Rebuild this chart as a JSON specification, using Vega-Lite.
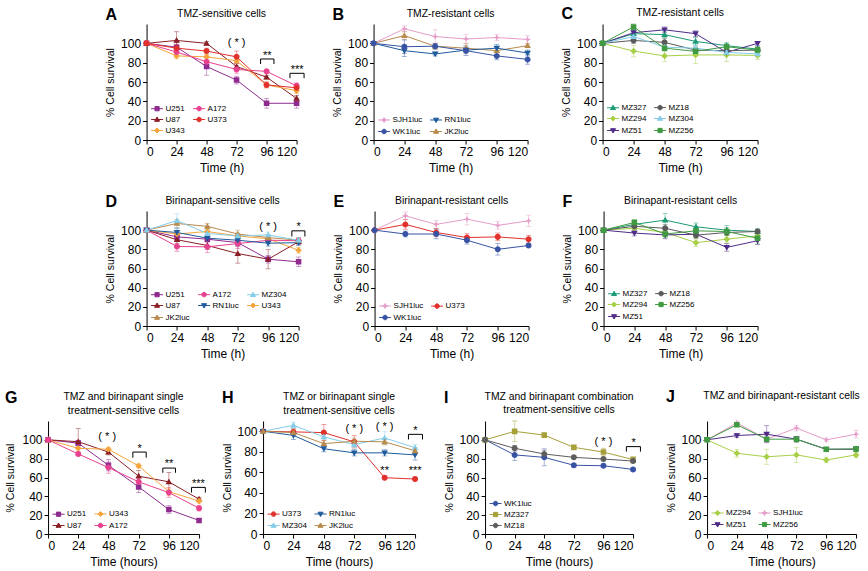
{
"$schema":"https://vega.github.io/schema/vega-lite/v6.json",
"background":"white",
"padding":{"left":5,"right":0,"top":6,"bottom":2},
"datasets":{
"A":[
{"c":"U251","t":0,"v":100,"e":0},{"c":"U251","t":24,"v":96,"e":5},{"c":"U251","t":48,"v":76,"e":9},{"c":"U251","t":72,"v":62,"e":4},{"c":"U251","t":96,"v":38,"e":5},{"c":"U251","t":120,"v":38,"e":5},
{"c":"U87","t":0,"v":100,"e":0},{"c":"U87","t":24,"v":103,"e":9},{"c":"U87","t":48,"v":100,"e":2},{"c":"U87","t":72,"v":76,"e":3},{"c":"U87","t":96,"v":65,"e":2},{"c":"U87","t":120,"v":43,"e":3},
{"c":"U343","t":0,"v":100,"e":0},{"c":"U343","t":24,"v":87,"e":3},{"c":"U343","t":48,"v":86,"e":3},{"c":"U343","t":72,"v":82,"e":3},{"c":"U343","t":96,"v":57,"e":3},{"c":"U343","t":120,"v":51,"e":3},
{"c":"A172","t":0,"v":100,"e":0},{"c":"A172","t":24,"v":91,"e":3},{"c":"A172","t":48,"v":81,"e":5},{"c":"A172","t":72,"v":73,"e":4},{"c":"A172","t":96,"v":71,"e":2},{"c":"A172","t":120,"v":56,"e":3},
{"c":"U373","t":0,"v":100,"e":0},{"c":"U373","t":24,"v":95,"e":4},{"c":"U373","t":48,"v":92,"e":3},{"c":"U373","t":72,"v":86,"e":6},{"c":"U373","t":96,"v":57,"e":3},{"c":"U373","t":120,"v":54,"e":3}],
"Aa":[{"t":72,"v":97,"s":"( * )"},{"t":96.5,"v":84,"s":"**"},{"t":120.5,"v":69.5,"s":"***"}],
"Ab":[{"g":1,"o":1,"t":91.2,"v":78.6},{"g":1,"o":2,"t":91.2,"v":83.8},{"g":1,"o":3,"t":101.9,"v":83.8},{"g":1,"o":4,"t":101.9,"v":78.6},{"g":2,"o":1,"t":114.7,"v":64},{"g":2,"o":2,"t":114.7,"v":69},{"g":2,"o":3,"t":126,"v":69},{"g":2,"o":4,"t":126,"v":64}],
"B":[
{"c":"SJH1luc","t":0,"v":100,"e":0},{"c":"SJH1luc","t":24,"v":115,"e":3},{"c":"SJH1luc","t":48,"v":107,"e":7},{"c":"SJH1luc","t":72,"v":104.5,"e":5},{"c":"SJH1luc","t":96,"v":106,"e":3},{"c":"SJH1luc","t":120,"v":104,"e":4},
{"c":"JK2luc","t":0,"v":100,"e":0},{"c":"JK2luc","t":24,"v":108,"e":4},{"c":"JK2luc","t":48,"v":97,"e":3},{"c":"JK2luc","t":72,"v":95,"e":5},{"c":"JK2luc","t":96,"v":92.4,"e":4},{"c":"JK2luc","t":120,"v":97.6,"e":2},
{"c":"RN1luc","t":0,"v":100,"e":0},{"c":"RN1luc","t":24,"v":92.4,"e":6},{"c":"RN1luc","t":48,"v":89,"e":2},{"c":"RN1luc","t":72,"v":93,"e":3},{"c":"RN1luc","t":96,"v":95,"e":4},{"c":"RN1luc","t":120,"v":90,"e":3},
{"c":"WK1luc","t":0,"v":100,"e":0},{"c":"WK1luc","t":24,"v":96.5,"e":7},{"c":"WK1luc","t":48,"v":97,"e":3},{"c":"WK1luc","t":72,"v":92.4,"e":5},{"c":"WK1luc","t":96,"v":87,"e":4},{"c":"WK1luc","t":120,"v":83.4,"e":5}],
"C":[
{"c":"MZ327","t":0,"v":100,"e":0},{"c":"MZ327","t":24,"v":110,"e":3},{"c":"MZ327","t":48,"v":109,"e":3},{"c":"MZ327","t":72,"v":102,"e":4},{"c":"MZ327","t":96,"v":97.6,"e":3},{"c":"MZ327","t":120,"v":94,"e":3},
{"c":"MZ294","t":0,"v":100,"e":0},{"c":"MZ294","t":24,"v":92,"e":6},{"c":"MZ294","t":48,"v":87,"e":6},{"c":"MZ294","t":72,"v":88,"e":9},{"c":"MZ294","t":96,"v":88,"e":7},{"c":"MZ294","t":120,"v":87.5,"e":4},
{"c":"MZ51","t":0,"v":100,"e":0},{"c":"MZ51","t":24,"v":111,"e":3},{"c":"MZ51","t":48,"v":114,"e":3},{"c":"MZ51","t":72,"v":110,"e":3},{"c":"MZ51","t":96,"v":90.7,"e":2},{"c":"MZ51","t":120,"v":100,"e":2},
{"c":"MZ18","t":0,"v":100,"e":0},{"c":"MZ18","t":24,"v":103,"e":3},{"c":"MZ18","t":48,"v":101,"e":4},{"c":"MZ18","t":72,"v":93,"e":3},{"c":"MZ18","t":96,"v":92.4,"e":2},{"c":"MZ18","t":120,"v":93,"e":3},
{"c":"MZ304","t":0,"v":100,"e":0},{"c":"MZ304","t":24,"v":107,"e":4},{"c":"MZ304","t":48,"v":96,"e":3},{"c":"MZ304","t":72,"v":95,"e":4},{"c":"MZ304","t":96,"v":90.7,"e":3},{"c":"MZ304","t":120,"v":89,"e":3},
{"c":"MZ256","t":0,"v":100,"e":0},{"c":"MZ256","t":24,"v":117,"e":3},{"c":"MZ256","t":48,"v":95,"e":3},{"c":"MZ256","t":72,"v":91.7,"e":3},{"c":"MZ256","t":96,"v":96.5,"e":3},{"c":"MZ256","t":120,"v":93,"e":3}],
"D":[
{"c":"U251","t":0,"v":100,"e":0},{"c":"U251","t":24,"v":93,"e":4},{"c":"U251","t":48,"v":90.6,"e":3},{"c":"U251","t":72,"v":87,"e":4},{"c":"U251","t":96,"v":69.7,"e":4},{"c":"U251","t":120,"v":67,"e":5},
{"c":"U87","t":0,"v":100,"e":0},{"c":"U87","t":24,"v":90,"e":4},{"c":"U87","t":48,"v":84,"e":4},{"c":"U87","t":72,"v":75.6,"e":10},{"c":"U87","t":96,"v":69.7,"e":10},{"c":"U87","t":120,"v":88,"e":3},
{"c":"U343","t":0,"v":100,"e":0},{"c":"U343","t":24,"v":96,"e":3},{"c":"U343","t":48,"v":98.6,"e":3},{"c":"U343","t":72,"v":94,"e":3},{"c":"U343","t":96,"v":91,"e":3},{"c":"U343","t":120,"v":79,"e":3},
{"c":"A172","t":0,"v":100,"e":0},{"c":"A172","t":24,"v":83,"e":5},{"c":"A172","t":48,"v":82.6,"e":6},{"c":"A172","t":72,"v":86,"e":5},{"c":"A172","t":96,"v":89.5,"e":3},{"c":"A172","t":120,"v":89,"e":3},
{"c":"RN1luc","t":0,"v":100,"e":0},{"c":"RN1luc","t":24,"v":97.6,"e":4},{"c":"RN1luc","t":48,"v":91.6,"e":3},{"c":"RN1luc","t":72,"v":89.5,"e":3},{"c":"RN1luc","t":96,"v":86.4,"e":3},{"c":"RN1luc","t":120,"v":87,"e":3},
{"c":"JK2luc","t":0,"v":100,"e":0},{"c":"JK2luc","t":24,"v":107,"e":4},{"c":"JK2luc","t":48,"v":104,"e":3},{"c":"JK2luc","t":72,"v":96,"e":4},{"c":"JK2luc","t":96,"v":92.3,"e":3},{"c":"JK2luc","t":120,"v":89.5,"e":3},
{"c":"MZ304","t":0,"v":100,"e":0},{"c":"MZ304","t":24,"v":110,"e":7},{"c":"MZ304","t":48,"v":96.5,"e":5},{"c":"MZ304","t":72,"v":94,"e":3},{"c":"MZ304","t":96,"v":95,"e":3},{"c":"MZ304","t":120,"v":89.5,"e":3}],
"Da":[{"t":96,"v":100,"s":"( * )"},{"t":120,"v":100,"s":"*"}],
"Db":[{"g":1,"o":1,"t":114.7,"v":93.4},{"g":1,"o":2,"t":114.7,"v":99.3},{"g":1,"o":3,"t":125,"v":99.3},{"g":1,"o":4,"t":125,"v":93.4}],
"E":[
{"c":"SJH1luc","t":0,"v":100,"e":0},{"c":"SJH1luc","t":24,"v":115,"e":4},{"c":"SJH1luc","t":48,"v":106,"e":4},{"c":"SJH1luc","t":72,"v":111.5,"e":6},{"c":"SJH1luc","t":96,"v":105,"e":4},{"c":"SJH1luc","t":120,"v":109.7,"e":6},
{"c":"U373","t":0,"v":100,"e":0},{"c":"U373","t":24,"v":106,"e":5},{"c":"U373","t":48,"v":97.6,"e":4},{"c":"U373","t":72,"v":92.3,"e":4},{"c":"U373","t":96,"v":93,"e":4},{"c":"U373","t":120,"v":90.6,"e":4},
{"c":"WK1luc","t":0,"v":100,"e":0},{"c":"WK1luc","t":24,"v":96,"e":3},{"c":"WK1luc","t":48,"v":96,"e":5},{"c":"WK1luc","t":72,"v":89.5,"e":4},{"c":"WK1luc","t":96,"v":80,"e":6},{"c":"WK1luc","t":120,"v":84,"e":2}],
"F":[
{"c":"MZ327","t":0,"v":100,"e":0},{"c":"MZ327","t":24,"v":106,"e":4},{"c":"MZ327","t":48,"v":110.5,"e":7},{"c":"MZ327","t":72,"v":103.5,"e":4},{"c":"MZ327","t":96,"v":100,"e":5},{"c":"MZ327","t":120,"v":98.6,"e":3},
{"c":"MZ294","t":0,"v":100,"e":0},{"c":"MZ294","t":24,"v":102,"e":3},{"c":"MZ294","t":48,"v":97.6,"e":4},{"c":"MZ294","t":72,"v":87,"e":4},{"c":"MZ294","t":96,"v":90.6,"e":4},{"c":"MZ294","t":120,"v":94,"e":4},
{"c":"MZ51","t":0,"v":100,"e":0},{"c":"MZ51","t":24,"v":97,"e":3},{"c":"MZ51","t":48,"v":95,"e":4},{"c":"MZ51","t":72,"v":95.8,"e":4},{"c":"MZ51","t":96,"v":82,"e":4},{"c":"MZ51","t":120,"v":89,"e":4},
{"c":"MZ18","t":0,"v":100,"e":0},{"c":"MZ18","t":24,"v":104,"e":3},{"c":"MZ18","t":48,"v":102,"e":4},{"c":"MZ18","t":72,"v":94.8,"e":3},{"c":"MZ18","t":96,"v":97.6,"e":3},{"c":"MZ18","t":120,"v":98.6,"e":2},
{"c":"MZ256","t":0,"v":100,"e":0},{"c":"MZ256","t":24,"v":108,"e":3},{"c":"MZ256","t":48,"v":96,"e":4},{"c":"MZ256","t":72,"v":99.3,"e":4},{"c":"MZ256","t":96,"v":98.6,"e":4},{"c":"MZ256","t":120,"v":91.6,"e":6}],
"G":[
{"c":"U251","t":0,"v":100,"e":0},{"c":"U251","t":24,"v":96.5,"e":3},{"c":"U251","t":48,"v":73,"e":6},{"c":"U251","t":72,"v":50,"e":6},{"c":"U251","t":96,"v":26,"e":4},{"c":"U251","t":120,"v":14.4,"e":2},
{"c":"U87","t":0,"v":100,"e":0},{"c":"U87","t":24,"v":98,"e":14},{"c":"U87","t":48,"v":87,"e":3},{"c":"U87","t":72,"v":61.4,"e":6},{"c":"U87","t":96,"v":55.4,"e":10},{"c":"U87","t":120,"v":37,"e":2},
{"c":"U343","t":0,"v":100,"e":0},{"c":"U343","t":24,"v":91,"e":3},{"c":"U343","t":48,"v":90,"e":2},{"c":"U343","t":72,"v":72.3,"e":2},{"c":"U343","t":96,"v":45,"e":4},{"c":"U343","t":120,"v":35,"e":3},
{"c":"A172","t":0,"v":100,"e":0},{"c":"A172","t":24,"v":85,"e":2},{"c":"A172","t":48,"v":70.5,"e":6},{"c":"A172","t":72,"v":55.4,"e":4},{"c":"A172","t":96,"v":44,"e":5},{"c":"A172","t":120,"v":27.4,"e":3}],
"Ga":[{"t":47,"v":99.7,"s":"( * )"},{"t":72.7,"v":87.5,"s":"*"},{"t":96.2,"v":71,"s":"**"},{"t":119.5,"v":50,"s":"***"}],
"Gb":[{"g":1,"o":1,"t":67.4,"v":81},{"g":1,"o":2,"t":67.4,"v":87},{"g":1,"o":3,"t":78,"v":87},{"g":1,"o":4,"t":78,"v":81},{"g":2,"o":1,"t":91.2,"v":65},{"g":2,"o":2,"t":91.2,"v":70},{"g":2,"o":3,"t":101.3,"v":70},{"g":2,"o":4,"t":101.3,"v":65},{"g":3,"o":1,"t":114,"v":44},{"g":3,"o":2,"t":114,"v":49.5},{"g":3,"o":3,"t":125,"v":49.5},{"g":3,"o":4,"t":125,"v":44}],
"H":[
{"c":"U373","t":0,"v":100,"e":0},{"c":"U373","t":24,"v":99.4,"e":3},{"c":"U373","t":48,"v":98.7,"e":8},{"c":"U373","t":72,"v":89.7,"e":6},{"c":"U373","t":96,"v":54.8,"e":2},{"c":"U373","t":120,"v":53.5,"e":2},
{"c":"MZ304","t":0,"v":100,"e":0},{"c":"MZ304","t":24,"v":105.8,"e":3},{"c":"MZ304","t":48,"v":94.5,"e":3},{"c":"MZ304","t":72,"v":87,"e":3},{"c":"MZ304","t":96,"v":93.5,"e":6},{"c":"MZ304","t":120,"v":84,"e":3},
{"c":"RN1luc","t":0,"v":100,"e":0},{"c":"RN1luc","t":24,"v":96,"e":4},{"c":"RN1luc","t":48,"v":83,"e":3},{"c":"RN1luc","t":72,"v":79,"e":3},{"c":"RN1luc","t":96,"v":79,"e":3},{"c":"RN1luc","t":120,"v":77,"e":5},
{"c":"JK2luc","t":0,"v":100,"e":0},{"c":"JK2luc","t":24,"v":98.7,"e":3},{"c":"JK2luc","t":48,"v":88,"e":3},{"c":"JK2luc","t":72,"v":90.3,"e":3},{"c":"JK2luc","t":96,"v":89.7,"e":3},{"c":"JK2luc","t":120,"v":81,"e":3}],
"Ha":[{"t":72,"v":99.7,"s":"( * )"},{"t":96,"v":101,"s":"( * )"},{"t":120.3,"v":97.5,"s":"*"},{"t":96,"v":58,"s":"**"},{"t":120,"v":58,"s":"***"}],
"Hb":[{"g":1,"o":1,"t":114.8,"v":92},{"g":1,"o":2,"t":114.8,"v":97},{"g":1,"o":3,"t":125.9,"v":97},{"g":1,"o":4,"t":125.9,"v":92}],
"I":[
{"c":"WK1luc","t":0,"v":100,"e":0},{"c":"WK1luc","t":24,"v":84,"e":6},{"c":"WK1luc","t":48,"v":81.4,"e":9},{"c":"WK1luc","t":72,"v":73,"e":2},{"c":"WK1luc","t":96,"v":72.5,"e":2},{"c":"WK1luc","t":120,"v":68.6,"e":2},
{"c":"MZ327","t":0,"v":100,"e":0},{"c":"MZ327","t":24,"v":109,"e":11},{"c":"MZ327","t":48,"v":105,"e":2},{"c":"MZ327","t":72,"v":92,"e":2},{"c":"MZ327","t":96,"v":87,"e":4},{"c":"MZ327","t":120,"v":79,"e":3},
{"c":"MZ18","t":0,"v":100,"e":0},{"c":"MZ18","t":24,"v":91,"e":3},{"c":"MZ18","t":48,"v":85,"e":4},{"c":"MZ18","t":72,"v":81.4,"e":2},{"c":"MZ18","t":96,"v":79.6,"e":2},{"c":"MZ18","t":120,"v":77.5,"e":2}],
"Ia":[{"t":96,"v":95,"s":"( * )"},{"t":120.5,"v":93.5,"s":"*"}],
"Ib":[{"g":1,"o":1,"t":114.6,"v":87.5},{"g":1,"o":2,"t":114.6,"v":92.8},{"g":1,"o":3,"t":126,"v":92.8},{"g":1,"o":4,"t":126,"v":87.5}],
"J":[
{"c":"MZ294","t":0,"v":100,"e":0},{"c":"MZ294","t":24,"v":85.7,"e":4},{"c":"MZ294","t":48,"v":82,"e":8},{"c":"MZ294","t":72,"v":84,"e":8},{"c":"MZ294","t":96,"v":78.6,"e":3},{"c":"MZ294","t":120,"v":84,"e":3},
{"c":"SJH1luc","t":0,"v":100,"e":0},{"c":"SJH1luc","t":24,"v":118,"e":2},{"c":"SJH1luc","t":48,"v":100.7,"e":4},{"c":"SJH1luc","t":72,"v":112.5,"e":3},{"c":"SJH1luc","t":96,"v":100,"e":2},{"c":"SJH1luc","t":120,"v":106,"e":4},
{"c":"MZ51","t":0,"v":100,"e":0},{"c":"MZ51","t":24,"v":104.6,"e":2},{"c":"MZ51","t":48,"v":106,"e":9},{"c":"MZ51","t":72,"v":100.7,"e":3},{"c":"MZ51","t":96,"v":90,"e":2},{"c":"MZ51","t":120,"v":90,"e":2},
{"c":"MZ256","t":0,"v":100,"e":0},{"c":"MZ256","t":24,"v":116,"e":2},{"c":"MZ256","t":48,"v":100.7,"e":2},{"c":"MZ256","t":72,"v":100.7,"e":3},{"c":"MZ256","t":96,"v":90,"e":2},{"c":"MZ256","t":120,"v":90.4,"e":2}]
},
"vconcat":[
{"vconcat":[
{"hconcat":[
 {"title":{"text":"A","anchor":"start","frame":"bounds","fontSize":16,"fontWeight":"bold","offset":-14},
  "resolve":{"scale":{"color":"independent","shape":"independent","stroke":"independent"}},
  "vconcat":[{"width":150,"height":116,"title":"TMZ-sensitive cells",
   "encoding":{"x":{"field":"t","type":"quantitative","scale":{"domain":[0,120],"nice":false},"axis":{"values":[0,24,48,72,96,120],"title":"Time (h)"}},
               "y":{"field":"v","type":"quantitative","scale":{"domain":[0,120],"nice":false},"axis":{"values":[0,20,40,60,80,100],"title":"% Cell survival"}}},
   "layer":[
    {"data":{"name":"A"},"mark":{"type":"errorbar","ticks":{"size":5,"opacity":0.55},"rule":{"opacity":0.55},"thickness":0.8},"encoding":{"yError":{"field":"e"},"color":{"field":"c","type":"nominal"}}},
    {"data":{"name":"A"},"mark":{"type":"line","strokeWidth":1},"encoding":{"color":{"field":"c","type":"nominal"}}},
    {"data":{"name":"A"},"mark":{"type":"point","filled":true,"size":250,"opacity":1,"strokeWidth":0},"encoding":{
      "color":{"field":"c","type":"nominal","scale":{"domain":["U251","U87","U343","A172","U373"],"range":["#8f2b8f","#8a1e25","#f5a53c","#e9418f","#e1312c"]},"legend":{"columns":2,"title":null}},
      "stroke":{"field":"c","type":"nominal","scale":{"domain":["U251","U87","U343","A172","U373"],"range":["#8f2b8f","#8a1e25","#f5a53c","#e9418f","#e1312c"]},"legend":{"columns":2,"title":null}},
      "shape":{"field":"c","type":"nominal","scale":{"domain":["U251","U87","U343","A172","U373"],"range":["M-1,0H1M-0.35,-0.35H0.35V0.35H-0.35Z","M-1,0H1M0,-0.42L0.42,0.3L-0.42,0.3Z","M-1,0H1M0,-0.42L0.42,0L0,0.42L-0.42,0Z","M-1,0H1M-0.38,0A0.38,0.38,0,1,1,0.38,0A0.38,0.38,0,1,1,-0.38,0Z","M-1,0H1M-0.38,0A0.38,0.38,0,1,1,0.38,0A0.38,0.38,0,1,1,-0.38,0Z"]},"legend":{"columns":2,"title":null}}}},
    {"data":{"name":"Aa"},"mark":{"type":"text","fontSize":11,"baseline":"alphabetic","color":"black"},"encoding":{"text":{"field":"s"}}},
    {"data":{"name":"Ab"},"mark":{"type":"line","color":"black","strokeWidth":1},"encoding":{"detail":{"field":"g"},"order":{"field":"o"}}}
   ]}]},
 {"title":{"text":"B","anchor":"start","frame":"bounds","fontSize":16,"fontWeight":"bold","offset":-14},
  "resolve":{"scale":{"color":"independent","shape":"independent","stroke":"independent"}},
  "vconcat":[{"width":154,"height":116,"title":"TMZ-resistant cells",
   "encoding":{"x":{"field":"t","type":"quantitative","scale":{"domain":[0,120],"nice":false},"axis":{"values":[0,24,48,72,96,120],"title":"Time (h)"}},
               "y":{"field":"v","type":"quantitative","scale":{"domain":[0,120],"nice":false},"axis":{"values":[0,20,40,60,80,100],"title":"% Cell survival"}}},
   "layer":[
    {"data":{"name":"B"},"mark":{"type":"errorbar","ticks":{"size":5,"opacity":0.55},"rule":{"opacity":0.55},"thickness":0.8},"encoding":{"yError":{"field":"e"},"color":{"field":"c","type":"nominal"}}},
    {"data":{"name":"B"},"mark":{"type":"line","strokeWidth":1},"encoding":{"color":{"field":"c","type":"nominal"}}},
    {"data":{"name":"B"},"mark":{"type":"point","filled":true,"size":250,"opacity":1,"strokeWidth":0},"encoding":{
      "color":{"field":"c","type":"nominal","scale":{"domain":["SJH1luc","WK1luc","RN1luc","JK2luc"],"range":["#e59cc9","#3953a4","#1f5b9d","#b88a4c"]},"legend":{"columns":2,"title":null}},
      "stroke":{"field":"c","type":"nominal","scale":{"domain":["SJH1luc","WK1luc","RN1luc","JK2luc"],"range":["#e59cc9","#3953a4","#1f5b9d","#b88a4c"]},"legend":{"columns":2,"title":null}},
      "shape":{"field":"c","type":"nominal","scale":{"domain":["SJH1luc","WK1luc","RN1luc","JK2luc"],"range":["M-1,0H1M0,-0.42L0.12,-0.12L0.42,0L0.12,0.12L0,0.42L-0.12,0.12L-0.42,0L-0.12,-0.12Z","M-1,0H1M-0.38,0A0.38,0.38,0,1,1,0.38,0A0.38,0.38,0,1,1,-0.38,0Z","M-1,0H1M0,0.42L0.42,-0.3L-0.42,-0.3Z","M-1,0H1M0,-0.42L0.42,0.3L-0.42,0.3Z"]},"legend":{"columns":2,"title":null}}}}
   ]}]},
 {"title":{"text":"C","anchor":"start","frame":"bounds","fontSize":16,"fontWeight":"bold","offset":-14},
  "resolve":{"scale":{"color":"independent","shape":"independent","stroke":"independent"}},
  "vconcat":[{"width":155,"height":116,"title":"TMZ-resistant cells",
   "encoding":{"x":{"field":"t","type":"quantitative","scale":{"domain":[0,120],"nice":false},"axis":{"values":[0,24,48,72,96,120],"title":"Time (h)"}},
               "y":{"field":"v","type":"quantitative","scale":{"domain":[0,120],"nice":false},"axis":{"values":[0,20,40,60,80,100],"title":"% Cell survival"}}},
   "layer":[
    {"data":{"name":"C"},"mark":{"type":"errorbar","ticks":{"size":5,"opacity":0.55},"rule":{"opacity":0.55},"thickness":0.8},"encoding":{"yError":{"field":"e"},"color":{"field":"c","type":"nominal"}}},
    {"data":{"name":"C"},"mark":{"type":"line","strokeWidth":1},"encoding":{"color":{"field":"c","type":"nominal"}}},
    {"data":{"name":"C"},"mark":{"type":"point","filled":true,"size":250,"opacity":1,"strokeWidth":0},"encoding":{
      "color":{"field":"c","type":"nominal","scale":{"domain":["MZ327","MZ294","MZ51","MZ18","MZ304","MZ256"],"range":["#1b9a74","#a8cf48","#4e2c88","#5a5a5a","#85cde9","#3f9a41"]},"legend":{"columns":2,"title":null}},
      "stroke":{"field":"c","type":"nominal","scale":{"domain":["MZ327","MZ294","MZ51","MZ18","MZ304","MZ256"],"range":["#1b9a74","#a8cf48","#4e2c88","#5a5a5a","#85cde9","#3f9a41"]},"legend":{"columns":2,"title":null}},
      "shape":{"field":"c","type":"nominal","scale":{"domain":["MZ327","MZ294","MZ51","MZ18","MZ304","MZ256"],"range":["M-1,0H1M0,-0.42L0.42,0.3L-0.42,0.3Z","M-1,0H1M0,-0.42L0.42,0L0,0.42L-0.42,0Z","M-1,0H1M0,0.42L0.42,-0.3L-0.42,-0.3Z","M-1,0H1M-0.38,0A0.38,0.38,0,1,1,0.38,0A0.38,0.38,0,1,1,-0.38,0Z","M-1,0H1M0,-0.42L0.42,0.3L-0.42,0.3Z","M-1,0H1M-0.35,-0.35H0.35V0.35H-0.35Z"]},"legend":{"columns":2,"title":null}}}}
   ]}]}
 ],"spacing":25,"resolve":{"scale":{"color":"independent","shape":"independent","stroke":"independent"}}},
{"hconcat":[
 {"title":{"text":"D","anchor":"start","frame":"bounds","fontSize":16,"fontWeight":"bold","offset":-14},
  "resolve":{"scale":{"color":"independent","shape":"independent","stroke":"independent"}},
  "vconcat":[{"width":152,"height":115,"title":"Birinapant-sensitive cells",
   "encoding":{"x":{"field":"t","type":"quantitative","scale":{"domain":[0,120],"nice":false},"axis":{"values":[0,24,48,72,96,120],"title":"Time (h)"}},
               "y":{"field":"v","type":"quantitative","scale":{"domain":[0,120],"nice":false},"axis":{"values":[0,20,40,60,80,100],"title":"% Cell survival"}}},
   "layer":[
    {"data":{"name":"D"},"mark":{"type":"errorbar","ticks":{"size":5,"opacity":0.55},"rule":{"opacity":0.55},"thickness":0.8},"encoding":{"yError":{"field":"e"},"color":{"field":"c","type":"nominal"}}},
    {"data":{"name":"D"},"mark":{"type":"line","strokeWidth":1},"encoding":{"color":{"field":"c","type":"nominal"}}},
    {"data":{"name":"D"},"mark":{"type":"point","filled":true,"size":250,"opacity":1,"strokeWidth":0},"encoding":{
      "color":{"field":"c","type":"nominal","scale":{"domain":["U251","U87","U343","A172","RN1luc","JK2luc","MZ304"],"range":["#8f2b8f","#8a1e25","#f5a53c","#e9418f","#1f5b9d","#b88a4c","#85cde9"]},"legend":{"columns":3,"title":null}},
      "stroke":{"field":"c","type":"nominal","scale":{"domain":["U251","U87","U343","A172","RN1luc","JK2luc","MZ304"],"range":["#8f2b8f","#8a1e25","#f5a53c","#e9418f","#1f5b9d","#b88a4c","#85cde9"]},"legend":{"columns":3,"title":null}},
      "shape":{"field":"c","type":"nominal","scale":{"domain":["U251","U87","U343","A172","RN1luc","JK2luc","MZ304"],"range":["M-1,0H1M-0.35,-0.35H0.35V0.35H-0.35Z","M-1,0H1M0,-0.42L0.42,0.3L-0.42,0.3Z","M-1,0H1M0,-0.42L0.42,0L0,0.42L-0.42,0Z","M-1,0H1M-0.38,0A0.38,0.38,0,1,1,0.38,0A0.38,0.38,0,1,1,-0.38,0Z","M-1,0H1M0,0.42L0.42,-0.3L-0.42,-0.3Z","M-1,0H1M0,-0.42L0.42,0.3L-0.42,0.3Z","M-1,0H1M0,-0.42L0.42,0.3L-0.42,0.3Z"]},"legend":{"columns":3,"title":null}}}},
    {"data":{"name":"Da"},"mark":{"type":"text","fontSize":11,"baseline":"alphabetic","color":"black"},"encoding":{"text":{"field":"s"}}},
    {"data":{"name":"Db"},"mark":{"type":"line","color":"black","strokeWidth":1},"encoding":{"detail":{"field":"g"},"order":{"field":"o"}}}
   ]}]},
 {"title":{"text":"E","anchor":"start","frame":"bounds","fontSize":16,"fontWeight":"bold","offset":-14},
  "resolve":{"scale":{"color":"independent","shape":"independent","stroke":"independent"}},
  "vconcat":[{"width":154,"height":115,"title":"Birinapant-resistant cells",
   "encoding":{"x":{"field":"t","type":"quantitative","scale":{"domain":[0,120],"nice":false},"axis":{"values":[0,24,48,72,96,120],"title":"Time (h)"}},
               "y":{"field":"v","type":"quantitative","scale":{"domain":[0,120],"nice":false},"axis":{"values":[0,20,40,60,80,100],"title":"% Cell survival"}}},
   "layer":[
    {"data":{"name":"E"},"mark":{"type":"errorbar","ticks":{"size":5,"opacity":0.55},"rule":{"opacity":0.55},"thickness":0.8},"encoding":{"yError":{"field":"e"},"color":{"field":"c","type":"nominal"}}},
    {"data":{"name":"E"},"mark":{"type":"line","strokeWidth":1},"encoding":{"color":{"field":"c","type":"nominal"}}},
    {"data":{"name":"E"},"mark":{"type":"point","filled":true,"size":250,"opacity":1,"strokeWidth":0},"encoding":{
      "color":{"field":"c","type":"nominal","scale":{"domain":["SJH1luc","WK1luc","U373"],"range":["#e59cc9","#3953a4","#e1312c"]},"legend":{"columns":2,"title":null}},
      "stroke":{"field":"c","type":"nominal","scale":{"domain":["SJH1luc","WK1luc","U373"],"range":["#e59cc9","#3953a4","#e1312c"]},"legend":{"columns":2,"title":null}},
      "shape":{"field":"c","type":"nominal","scale":{"domain":["SJH1luc","WK1luc","U373"],"range":["M-1,0H1M0,-0.42L0.12,-0.12L0.42,0L0.12,0.12L0,0.42L-0.12,0.12L-0.42,0L-0.12,-0.12Z","M-1,0H1M-0.38,0A0.38,0.38,0,1,1,0.38,0A0.38,0.38,0,1,1,-0.38,0Z","M-1,0H1M-0.38,0A0.38,0.38,0,1,1,0.38,0A0.38,0.38,0,1,1,-0.38,0Z"]},"legend":{"columns":2,"title":null}}}}
   ]}]},
 {"title":{"text":"F","anchor":"start","frame":"bounds","fontSize":16,"fontWeight":"bold","offset":-14},
  "resolve":{"scale":{"color":"independent","shape":"independent","stroke":"independent"}},
  "vconcat":[{"width":154,"height":115,"title":"Birinapant-resistant cells",
   "encoding":{"x":{"field":"t","type":"quantitative","scale":{"domain":[0,120],"nice":false},"axis":{"values":[0,24,48,72,96,120],"title":"Time (h)"}},
               "y":{"field":"v","type":"quantitative","scale":{"domain":[0,120],"nice":false},"axis":{"values":[0,20,40,60,80,100],"title":"% Cell survival"}}},
   "layer":[
    {"data":{"name":"F"},"mark":{"type":"errorbar","ticks":{"size":5,"opacity":0.55},"rule":{"opacity":0.55},"thickness":0.8},"encoding":{"yError":{"field":"e"},"color":{"field":"c","type":"nominal"}}},
    {"data":{"name":"F"},"mark":{"type":"line","strokeWidth":1},"encoding":{"color":{"field":"c","type":"nominal"}}},
    {"data":{"name":"F"},"mark":{"type":"point","filled":true,"size":250,"opacity":1,"strokeWidth":0},"encoding":{
      "color":{"field":"c","type":"nominal","scale":{"domain":["MZ327","MZ294","MZ51","MZ18","MZ256"],"range":["#1b9a74","#a8cf48","#4e2c88","#5a5a5a","#3f9a41"]},"legend":{"columns":2,"title":null}},
      "stroke":{"field":"c","type":"nominal","scale":{"domain":["MZ327","MZ294","MZ51","MZ18","MZ256"],"range":["#1b9a74","#a8cf48","#4e2c88","#5a5a5a","#3f9a41"]},"legend":{"columns":2,"title":null}},
      "shape":{"field":"c","type":"nominal","scale":{"domain":["MZ327","MZ294","MZ51","MZ18","MZ256"],"range":["M-1,0H1M0,-0.42L0.42,0.3L-0.42,0.3Z","M-1,0H1M0,-0.42L0.42,0L0,0.42L-0.42,0Z","M-1,0H1M0,0.42L0.42,-0.3L-0.42,-0.3Z","M-1,0H1M-0.38,0A0.38,0.38,0,1,1,0.38,0A0.38,0.38,0,1,1,-0.38,0Z","M-1,0H1M-0.35,-0.35H0.35V0.35H-0.35Z"]},"legend":{"columns":2,"title":null}}}}
   ]}]}
 ],"spacing":25,"resolve":{"scale":{"color":"independent","shape":"independent","stroke":"independent"}}}
],"spacing":20,"center":true,"resolve":{"scale":{"color":"independent","shape":"independent","stroke":"independent"}}},
{"hconcat":[
{"hconcat":[
 {"title":{"text":"G","anchor":"start","frame":"bounds","fontSize":16,"fontWeight":"bold","offset":-14},
  "resolve":{"scale":{"color":"independent","shape":"independent","stroke":"independent"}},
  "vconcat":[{"width":151,"height":113,"title":{"text":["TMZ and birinapant single","treatment-sensitive cells"],"lineHeight":13.5},
   "encoding":{"x":{"field":"t","type":"quantitative","scale":{"domain":[0,120],"nice":false},"axis":{"values":[0,24,48,72,96,120],"title":"Time (hours)"}},
               "y":{"field":"v","type":"quantitative","scale":{"domain":[0,120],"nice":false},"axis":{"values":[0,20,40,60,80,100],"title":"% Cell survival","titlePadding":7}}},
   "layer":[
    {"data":{"name":"G"},"mark":{"type":"errorbar","ticks":{"size":5,"opacity":0.55},"rule":{"opacity":0.55},"thickness":0.8},"encoding":{"yError":{"field":"e"},"color":{"field":"c","type":"nominal"}}},
    {"data":{"name":"G"},"mark":{"type":"line","strokeWidth":1},"encoding":{"color":{"field":"c","type":"nominal"}}},
    {"data":{"name":"G"},"mark":{"type":"point","filled":true,"size":250,"opacity":1,"strokeWidth":0},"encoding":{
      "color":{"field":"c","type":"nominal","scale":{"domain":["U251","U87","U343","A172"],"range":["#8f2b8f","#8a1e25","#f5a53c","#e9418f"]},"legend":{"columns":2,"title":null}},
      "stroke":{"field":"c","type":"nominal","scale":{"domain":["U251","U87","U343","A172"],"range":["#8f2b8f","#8a1e25","#f5a53c","#e9418f"]},"legend":{"columns":2,"title":null}},
      "shape":{"field":"c","type":"nominal","scale":{"domain":["U251","U87","U343","A172"],"range":["M-1,0H1M-0.35,-0.35H0.35V0.35H-0.35Z","M-1,0H1M0,-0.42L0.42,0.3L-0.42,0.3Z","M-1,0H1M0,-0.42L0.42,0L0,0.42L-0.42,0Z","M-1,0H1M-0.38,0A0.38,0.38,0,1,1,0.38,0A0.38,0.38,0,1,1,-0.38,0Z"]},"legend":{"columns":2,"title":null}}}},
    {"data":{"name":"Ga"},"mark":{"type":"text","fontSize":11,"baseline":"alphabetic","color":"black"},"encoding":{"text":{"field":"s"}}},
    {"data":{"name":"Gb"},"mark":{"type":"line","color":"black","strokeWidth":1},"encoding":{"detail":{"field":"g"},"order":{"field":"o"}}}
   ]}]},
 {"title":{"text":"H","anchor":"start","frame":"bounds","fontSize":16,"fontWeight":"bold","offset":-14},
  "resolve":{"scale":{"color":"independent","shape":"independent","stroke":"independent"}},
  "vconcat":[{"width":152,"height":113,"title":{"text":["TMZ or birinapant single","treatment-sensitive cells"],"lineHeight":13.5},
   "encoding":{"x":{"field":"t","type":"quantitative","scale":{"domain":[0,120],"nice":false},"axis":{"values":[0,24,48,72,96,120],"title":"Time (hours)"}},
               "y":{"field":"v","type":"quantitative","scale":{"domain":[0,110],"nice":false},"axis":{"values":[0,20,40,60,80,100],"title":"% Cell survival"}}},
   "layer":[
    {"data":{"name":"H"},"mark":{"type":"errorbar","ticks":{"size":5,"opacity":0.55},"rule":{"opacity":0.55},"thickness":0.8},"encoding":{"yError":{"field":"e"},"color":{"field":"c","type":"nominal"}}},
    {"data":{"name":"H"},"mark":{"type":"line","strokeWidth":1},"encoding":{"color":{"field":"c","type":"nominal"}}},
    {"data":{"name":"H"},"mark":{"type":"point","filled":true,"size":250,"opacity":1,"strokeWidth":0},"encoding":{
      "color":{"field":"c","type":"nominal","scale":{"domain":["U373","MZ304","RN1luc","JK2luc"],"range":["#e1312c","#85cde9","#1f5b9d","#b88a4c"]},"legend":{"columns":2,"title":null}},
      "stroke":{"field":"c","type":"nominal","scale":{"domain":["U373","MZ304","RN1luc","JK2luc"],"range":["#e1312c","#85cde9","#1f5b9d","#b88a4c"]},"legend":{"columns":2,"title":null}},
      "shape":{"field":"c","type":"nominal","scale":{"domain":["U373","MZ304","RN1luc","JK2luc"],"range":["M-1,0H1M-0.38,0A0.38,0.38,0,1,1,0.38,0A0.38,0.38,0,1,1,-0.38,0Z","M-1,0H1M0,-0.42L0.42,0.3L-0.42,0.3Z","M-1,0H1M0,0.42L0.42,-0.3L-0.42,-0.3Z","M-1,0H1M0,-0.42L0.42,0.3L-0.42,0.3Z"]},"legend":{"columns":2,"title":null}}}},
    {"data":{"name":"Ha"},"mark":{"type":"text","fontSize":11,"baseline":"alphabetic","color":"black"},"encoding":{"text":{"field":"s"}}},
    {"data":{"name":"Hb"},"mark":{"type":"line","color":"black","strokeWidth":1},"encoding":{"detail":{"field":"g"},"order":{"field":"o"}}}
   ]}]}
 ],"spacing":13,"resolve":{"scale":{"color":"independent","shape":"independent","stroke":"independent"}}},
{"hconcat":[
 {"title":{"text":"I","anchor":"start","frame":"bounds","fontSize":16,"fontWeight":"bold","offset":-14},
  "resolve":{"scale":{"color":"independent","shape":"independent","stroke":"independent"}},
  "vconcat":[{"width":148,"height":113,"title":{"text":["TMZ and birinapant combination","treatment-sensitive cells"],"lineHeight":13.5},
   "encoding":{"x":{"field":"t","type":"quantitative","scale":{"domain":[0,120],"nice":false},"axis":{"values":[0,24,48,72,96,120],"title":"Time (hours)"}},
               "y":{"field":"v","type":"quantitative","scale":{"domain":[0,120],"nice":false},"axis":{"values":[0,20,40,60,80,100],"title":"% Cell survival"}}},
   "layer":[
    {"data":{"name":"I"},"mark":{"type":"errorbar","ticks":{"size":5,"opacity":0.55},"rule":{"opacity":0.55},"thickness":0.8},"encoding":{"yError":{"field":"e"},"color":{"field":"c","type":"nominal"}}},
    {"data":{"name":"I"},"mark":{"type":"line","strokeWidth":1},"encoding":{"color":{"field":"c","type":"nominal"}}},
    {"data":{"name":"I"},"mark":{"type":"point","filled":true,"size":250,"opacity":1,"strokeWidth":0},"encoding":{
      "color":{"field":"c","type":"nominal","scale":{"domain":["WK1luc","MZ327","MZ18"],"range":["#3953a4","#a8a03b","#5e5e5e"]},"legend":{"columns":1,"title":null}},
      "stroke":{"field":"c","type":"nominal","scale":{"domain":["WK1luc","MZ327","MZ18"],"range":["#3953a4","#a8a03b","#5e5e5e"]},"legend":{"columns":1,"title":null}},
      "shape":{"field":"c","type":"nominal","scale":{"domain":["WK1luc","MZ327","MZ18"],"range":["M-1,0H1M-0.38,0A0.38,0.38,0,1,1,0.38,0A0.38,0.38,0,1,1,-0.38,0Z","M-1,0H1M-0.35,-0.35H0.35V0.35H-0.35Z","M-1,0H1M-0.38,0A0.38,0.38,0,1,1,0.38,0A0.38,0.38,0,1,1,-0.38,0Z"]},"legend":{"columns":1,"title":null}}}},
    {"data":{"name":"Ia"},"mark":{"type":"text","fontSize":11,"baseline":"alphabetic","color":"black"},"encoding":{"text":{"field":"s"}}},
    {"data":{"name":"Ib"},"mark":{"type":"line","color":"black","strokeWidth":1},"encoding":{"detail":{"field":"g"},"order":{"field":"o"}}}
   ]}]},
 {"title":{"text":"J","anchor":"start","frame":"bounds","fontSize":16,"fontWeight":"bold","offset":-14},
  "resolve":{"scale":{"color":"independent","shape":"independent","stroke":"independent"}},
  "vconcat":[{"width":149,"height":113,"title":{"text":"TMZ and birinapant-resistant cells","offset":18.5},
   "encoding":{"x":{"field":"t","type":"quantitative","scale":{"domain":[0,120],"nice":false},"axis":{"values":[0,24,48,72,96,120],"title":"Time (hours)"}},
               "y":{"field":"v","type":"quantitative","scale":{"domain":[0,120],"nice":false},"axis":{"values":[0,20,40,60,80,100],"title":"% Cell survival"}}},
   "layer":[
    {"data":{"name":"J"},"mark":{"type":"errorbar","ticks":{"size":5,"opacity":0.55},"rule":{"opacity":0.55},"thickness":0.8},"encoding":{"yError":{"field":"e"},"color":{"field":"c","type":"nominal"}}},
    {"data":{"name":"J"},"mark":{"type":"line","strokeWidth":1},"encoding":{"color":{"field":"c","type":"nominal"}}},
    {"data":{"name":"J"},"mark":{"type":"point","filled":true,"size":250,"opacity":1,"strokeWidth":0},"encoding":{
      "color":{"field":"c","type":"nominal","scale":{"domain":["MZ294","MZ51","SJH1luc","MZ256"],"range":["#a8cf48","#4e2c88","#e59cc9","#3f9a41"]},"legend":{"columns":2,"title":null}},
      "stroke":{"field":"c","type":"nominal","scale":{"domain":["MZ294","MZ51","SJH1luc","MZ256"],"range":["#a8cf48","#4e2c88","#e59cc9","#3f9a41"]},"legend":{"columns":2,"title":null}},
      "shape":{"field":"c","type":"nominal","scale":{"domain":["MZ294","MZ51","SJH1luc","MZ256"],"range":["M-1,0H1M0,-0.42L0.42,0L0,0.42L-0.42,0Z","M-1,0H1M0,0.42L0.42,-0.3L-0.42,-0.3Z","M-1,0H1M0,-0.42L0.12,-0.12L0.42,0L0.12,0.12L0,0.42L-0.12,0.12L-0.42,0L-0.12,-0.12Z","M-1,0H1M-0.35,-0.35H0.35V0.35H-0.35Z"]},"legend":{"columns":2,"title":null}}}}
   ]}]}
 ],"spacing":22,"resolve":{"scale":{"color":"independent","shape":"independent","stroke":"independent"}}}
],"spacing":18,"resolve":{"scale":{"color":"independent","shape":"independent","stroke":"independent"}}}
],
"spacing":29,
"center":true,
"resolve":{"scale":{"color":"independent","shape":"independent","stroke":"independent"}},
"config":{
 "font":"Liberation Sans",
 "view":{"stroke":null},
 "axis":{"grid":false,"domainColor":"black","tickColor":"black","labelColor":"black","titleColor":"black","labelFontSize":12,"titleFontSize":12,"titleFontWeight":"normal","tickSize":4,"labelPadding":2,"titlePadding":5,"domainWidth":1,"tickWidth":1},
 "axisY":{"titleFontSize":10.5},
 "title":{"fontSize":10.4,"fontWeight":"normal","color":"black","offset":5,"frame":"group","anchor":"middle"},
 "legend":{"orient":"bottom-left","labelFontSize":8,"labelColor":"black","symbolSize":144,"rowPadding":0,"columnPadding":5,"labelOffset":2,"offset":4,"padding":0,"symbolStrokeWidth":1,"symbolOpacity":1}
}
}
